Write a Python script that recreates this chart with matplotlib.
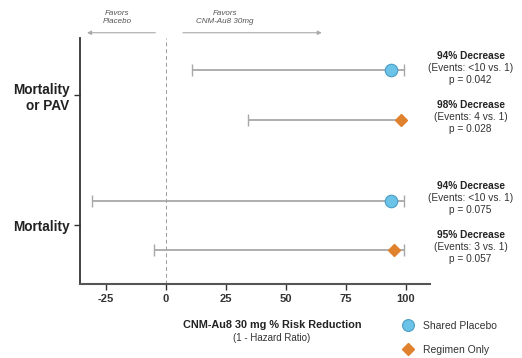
import matplotlib
matplotlib.use('Agg')
import matplotlib.pyplot as plt
from matplotlib.lines import Line2D

plt.rcParams['font.family'] = ['Liberation Sans', 'DejaVu Sans']

# data
groups = ['Mortality\nor PAV', 'Mortality']
group_y = [1, 0]
rows_group = [0, 0, 1, 1]
rows_kind = ['shared', 'regimen', 'shared', 'regimen']
points = [94, 98, 94, 95]
ci_low = [11, 34, -31, -5]
ci_high = [99.5, 98, 99.5, 99.5]
pct = [94, 98, 94, 95]
events = ['<10 vs. 1', '4 vs. 1', '<10 vs. 1', '3 vs. 1']
pvals = ['0.042', '0.028', '0.075', '0.057']
xticks = [-25, 0, 25, 50, 75, 100]

blue = '#6cc3e8'
orange = '#e0822d'
grey = '#a8a8a8'

fig = plt.figure(figsize=(5.22, 3.58), dpi=100)
ax = fig.add_axes([0.153, 0.207, 0.67, 0.687])

off = 0.19
for i in range(4):
    y = group_y[rows_group[i]] + (off if i % 2 == 0 else -off)
    ax.errorbar(points[i], y, xerr=[[points[i] - ci_low[i]], [ci_high[i] - points[i]]],
                fmt='none', ecolor=grey, elinewidth=1.3, capsize=4, capthick=1.0, zorder=2)
    if rows_kind[i] == 'shared':
        ax.plot(points[i], y, 'o', ms=9, mfc=blue, mec='#4a9cc4', mew=0.8, zorder=3)
    else:
        ax.plot(points[i], y, 'D', ms=6.5, mfc=orange, mec=orange, zorder=3)
    yc = y + 0.022
    tr = ax.get_yaxis_transform()
    ax.text(1.117, yc + 0.093, f'{pct[i]}% Decrease', transform=tr,
            ha='center', va='center', fontsize=7.3, fontweight='bold', color='#222222')
    ax.text(1.117, yc, f'(Events: {events[i]})', transform=tr,
            ha='center', va='center', fontsize=7.3, color='#333333')
    ax.text(1.117, yc - 0.093, f'p = {pvals[i]}', transform=tr,
            ha='center', va='center', fontsize=7.3, color='#333333')

ax.axvline(0, color='#999999', lw=0.7, ls=(0, (4, 3)), zorder=1)

ax.set_xlim(-36, 110)
ax.set_ylim(-0.45, 1.44)
ax.set_xticks(xticks)
ax.set_xticklabels([str(t) for t in xticks], fontweight='bold', fontsize=8, color='#333333')
ax.set_yticks(group_y)
ax.set_yticklabels(groups, fontweight='bold', fontsize=9.8, color='#222222', ha='right',
                   multialignment='right')
ax.tick_params(axis='both', length=4, width=1, color='#333333')
for s in ['top', 'right']:
    ax.spines[s].set_visible(False)
ax.spines['left'].set_color('#333333')
ax.spines['left'].set_linewidth(1.3)
ax.spines['bottom'].set_color('#555555')
ax.spines['bottom'].set_linewidth(1.5)

fig.text(272 / 522, 1 - 325 / 358, 'CNM-Au8 30 mg % Risk Reduction', ha='center',
         va='center', fontsize=7.8, fontweight='bold', color='#222222')
fig.text(272 / 522, 1 - 338 / 358, '(1 - Hazard Ratio)', ha='center',
         va='center', fontsize=7, color='#333333')

# favors arrows on top
ax.annotate('', xy=(-33, 1.48), xytext=(-4.5, 1.48), xycoords='data', annotation_clip=False,
            arrowprops=dict(arrowstyle='-|>', color='#aaaaaa', lw=0.8, mutation_scale=6,
                            shrinkA=0, shrinkB=0))
ax.annotate('', xy=(65, 1.48), xytext=(7, 1.48), xycoords='data', annotation_clip=False,
            arrowprops=dict(arrowstyle='-|>', color='#aaaaaa', lw=0.8, mutation_scale=6,
                            shrinkA=0, shrinkB=0))
ax.text(-20.5, 1.54, 'Favors\nPlacebo', ha='center', va='bottom', fontsize=5.8,
        style='italic', color='#555555', linespacing=1.15)
ax.text(24.5, 1.54, 'Favors\nCNM-Au8 30mg', ha='center', va='bottom', fontsize=5.8,
        style='italic', color='#555555', linespacing=1.15)

handles = [Line2D([], [], marker='o', ls='none', ms=8.5, mfc=blue, mec='#4a9cc4', mew=0.8),
           Line2D([], [], marker='D', ls='none', ms=6, mfc=orange, mec=orange)]
fig.legend(handles, ['Shared Placebo', 'Regimen Only'], loc='upper left',
           bbox_to_anchor=(0.743, 0.13), frameon=False, fontsize=7.5,
           handletextpad=0.5, labelspacing=1.35, labelcolor='#333333')

fig.savefig('out.png', dpi=100)
